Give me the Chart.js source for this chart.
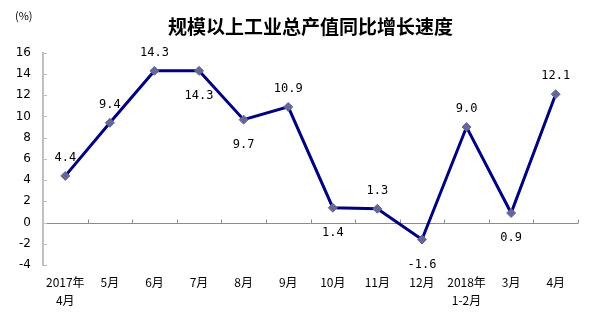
<!DOCTYPE html>
<html>
<head>
<meta charset="utf-8">
<script src="https://cdn.jsdelivr.net/npm/chart.js@4"></script>
<style>
  html, body { margin: 0; padding: 0; background: #fff; }
  #wrap { width: 597px; height: 326px; }
</style>
</head>
<body>
<div id="wrap"><canvas id="mainChart" width="597" height="326"></canvas></div>
<script>
// -----------------------------
// DATA
// -----------------------------
const months = [
  ['2017年', '4月'], '5月', '6月', '7月', '8月', '9月',
  '10月', '11月', '12月', ['2018年', '1-2月'], '3月', '4月'
];
const growth = [4.4, 9.4, 14.3, 14.3, 9.7, 10.9, 1.4, 1.3, -1.6, 9.0, 0.9, 12.1];
// which side of the point each value label sits on (1 = above, -1 = below)
const labelSide = [1, 1, 1, -1, -1, 1, -1, 1, -1, 1, -1, 1];

const CJK = '"Noto Sans CJK SC", "DejaVu Sans", sans-serif';

// -----------------------------
// PLUGINS
// -----------------------------
const axisMarks = {
  id: 'axisMarks',
  beforeDatasetsDraw(chart) {
    const { ctx, chartArea, scales: { x, y } } = chart;
    ctx.save();

    // zero line with small category ticks
    const y0 = Math.round(y.getPixelForValue(0)) + 0.5;
    ctx.strokeStyle = '#8c8c8c';
    ctx.lineWidth = 1;
    ctx.beginPath();
    ctx.moveTo(chartArea.left, y0);
    ctx.lineTo(chartArea.right, y0);
    const step = x.getPixelForValue(1) - x.getPixelForValue(0);
    for (let i = 0; i < months.length; i++) {
      const bx = Math.round(x.getPixelForValue(i) + step / 2) + 0.5;
      ctx.moveTo(bx, y0);
      ctx.lineTo(bx, y0 - 4);
    }
    ctx.stroke();

    // inward ticks on the value axis
    ctx.strokeStyle = '#c0c0c0';
    ctx.beginPath();
    y.ticks.forEach(t => {
      const ty = Math.round(y.getPixelForValue(t.value)) + 0.5;
      ctx.moveTo(chartArea.left, ty);
      ctx.lineTo(chartArea.left + 4, ty);
    });
    ctx.stroke();
    ctx.restore();
  }
};

const valueLabels = {
  id: 'valueLabels',
  afterDatasetsDraw(chart) {
    const { ctx } = chart;
    const meta = chart.getDatasetMeta(0);
    ctx.save();
    ctx.font = '12px "DejaVu Sans Mono", monospace';
    ctx.fillStyle = '#000';
    ctx.textAlign = 'center';
    ctx.textBaseline = 'middle';
    meta.data.forEach((pt, i) => {
      const dy = labelSide[i] > 0 ? -18 : 25;
      ctx.fillText(growth[i].toFixed(1), pt.x, pt.y + dy);
    });
    // unit label
    ctx.font = '11px ' + CJK;
    ctx.textAlign = 'left';
    ctx.fillText('(%)', 15, 16);
    ctx.restore();
  }
};

// -----------------------------
// CHART
// -----------------------------
const ctx = document.getElementById('mainChart').getContext('2d');

new Chart(ctx, {
  type: 'line',
  data: {
    labels: months,
    datasets: [{
      data: growth,
      borderColor: '#000080',
      borderWidth: 3,
      tension: 0,
      pointStyle: 'rectRot',
      pointRadius: 4.5,
      pointBackgroundColor: '#666699',
      pointBorderColor: '#666699',
      pointBorderWidth: 1
    }]
  },
  options: {
    responsive: false,
    animation: false,
    layout: { padding: { left: 0, right: 19, top: 0, bottom: 0 } },
    plugins: {
      legend: { display: false },
      tooltip: { enabled: false },
      title: {
        display: true,
        fullSize: false,
        text: '规模以上工业总产值同比增长速度',
        color: '#000',
        font: { family: CJK, size: 19, weight: 'bold', lineHeight: 1.2 },
        padding: { top: 15, bottom: 15 }
      }
    },
    scales: {
      x: {
        offset: true,
        grid: { display: false, drawTicks: false },
        border: { display: false },
        ticks: {
          color: '#000',
          font: { family: CJK, size: 12, lineHeight: 1.55 },
          padding: 8,
          maxRotation: 0,
          autoSkip: false
        },
        afterFit: s => { s.height = 61; }
      },
      y: {
        min: -4,
        max: 16,
        grid: { drawOnChartArea: false, drawTicks: false },
        border: { color: '#c0c0c0', width: 2 },
        ticks: {
          stepSize: 2,
          color: '#000',
          font: { family: '"DejaVu Sans", sans-serif', size: 12 },
          padding: 12
        },
        afterFit: s => { s.width = 43; }
      }
    }
  },
  plugins: [axisMarks, valueLabels]
});
</script>
</body>
</html>
